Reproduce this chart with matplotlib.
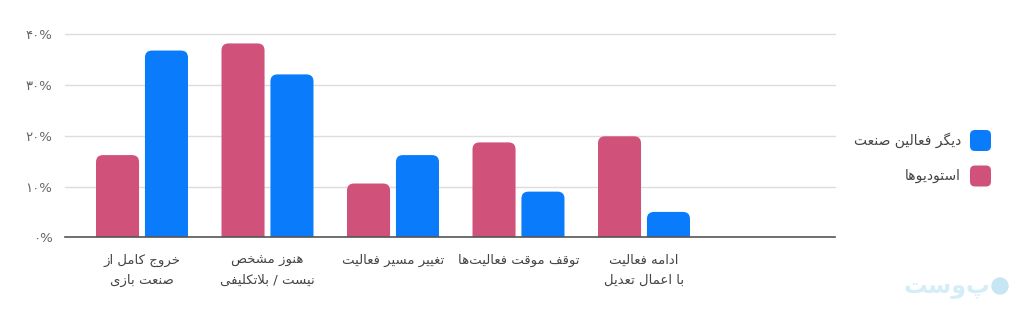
import matplotlib.pyplot as plt
from matplotlib.patches import FancyBboxPatch
import numpy as np

# data
categories = [
    "خروج کامل از\nصنعت بازی",
    "هنوز مشخص\nنیست / بلاتکلیفی",
    "تغییر مسیر فعالیت",
    "توقف موقت فعالیت\u200cها",
    "ادامه فعالیت\nبا اعمال تعدیل",
]
series_names = ["دیگر فعالین صنعت", "استودیوها"]
studios = [16.2, 38.2, 10.6, 18.7, 19.9]
others = [36.8, 32.1, 16.2, 9.0, 5.0]
y_ticks = [0, 10, 20, 30, 40]

PINK = "#d0527b"
BLUE = "#0a7cfb"

# matplotlib has no arabic shaping, so pick presentation forms by hand
FORMS = {
    "ا": (0xFE8D, 2), "ب": (0xFE8F, 4), "ت": (0xFE95, 4), "ج": (0xFE9D, 4),
    "خ": (0xFEA5, 4), "د": (0xFEA9, 2), "ر": (0xFEAD, 2), "ز": (0xFEAF, 2),
    "س": (0xFEB1, 4), "ش": (0xFEB5, 4), "ص": (0xFEB9, 4), "ع": (0xFEC9, 4),
    "غ": (0xFECD, 4), "ف": (0xFED1, 4), "ق": (0xFED5, 4), "ل": (0xFEDD, 4),
    "م": (0xFEE1, 4), "ن": (0xFEE5, 4), "ه": (0xFEE9, 4), "و": (0xFEED, 2),
    "ک": (0xFB8E, 4), "گ": (0xFB92, 4), "ی": (0xFBFC, 4),
}


def shape_line(text):
    tokens = []
    i = 0
    while i < len(text):
        if text[i] == "ل" and i + 1 < len(text) and text[i + 1] == "ا":
            tokens.append("LA")
            i += 2
        else:
            tokens.append(text[i])
            i += 1

    def joins(t):
        return t in FORMS or t == "LA"

    def dual(t):
        return t in FORMS and FORMS[t][1] == 4

    out = []
    for k, t in enumerate(tokens):
        prev = tokens[k - 1] if k > 0 else None
        nxt = tokens[k + 1] if k + 1 < len(tokens) else None
        jp = prev is not None and dual(prev) and joins(t)
        jn = dual(t) and nxt is not None and joins(nxt)
        if t == "LA":
            out.append(chr(0xFEFC if jp else 0xFEFB))
        elif t in FORMS:
            base = FORMS[t][0]
            off = 3 if (jp and jn) else 2 if jn else 1 if jp else 0
            out.append(chr(base + off))
        elif t == "\u200c":
            continue
        else:
            out.append(t)
    return "".join(out)[::-1]


def fa(text):
    return "\n".join(shape_line(l) for l in text.split("\n"))


def fa_num(n):
    return str(n).translate(str.maketrans("0123456789", "۰۱۲۳۴۵۶۷۸۹")) + "%"


W, H = 1031, 317
fig = plt.figure(figsize=(W / 100, H / 100), dpi=100)
px_per_unit = 5.075
ax = fig.add_axes([65 / W, (H - 237.3) / H, 770 / W, 42 * px_per_unit / H])

x = np.arange(len(categories))
width = 0.343
off = 0.195
ax.set_xlim(-0.6135, 5.522)
ax.set_ylim(0, 42)

bars_p = ax.bar(x - off, studios, width, color=PINK)
bars_b = ax.bar(x + off, others, width, color=BLUE)

# swap the plain bars for ones with rounded tops
p0 = ax.transData.transform((0, 0))
p1 = ax.transData.transform((1, 1))
sx, sy = p1[0] - p0[0], p1[1] - p0[1]
r_px = 7
for bars, col in [(bars_p, PINK), (bars_b, BLUE)]:
    for b in bars:
        bx, bw, bh = b.get_x(), b.get_width(), b.get_height()
        b.remove()
        ax.add_patch(FancyBboxPatch(
            (bx, -r_px / sy), bw, bh + r_px / sy,
            boxstyle=f"round,pad=0,rounding_size={r_px / sx}",
            mutation_aspect=sx / sy, fc=col, ec="none", zorder=3))

for t in y_ticks[1:]:
    ax.axhline(t, color="#dddddd", lw=1, zorder=1, clip_on=False)

for s in ["top", "right", "left"]:
    ax.spines[s].set_visible(False)
ax.spines["bottom"].set_color("#555555")
ax.spines["bottom"].set_linewidth(1.2)
ax.spines["bottom"].set_zorder(4)

ax.set_yticks(y_ticks)
ax.set_yticklabels([fa_num(t) for t in y_ticks], color="#666666", fontsize=9.5)
ax.set_xticks(x)
ax.set_xticklabels([fa(c) for c in categories], color="#444444", fontsize=9.5,
                   linespacing=1.7)
ax.tick_params(axis="y", length=0, pad=9)
ax.tick_params(axis="x", length=0, pad=12)

# legend on the right, square after text
ov = fig.add_axes([0, 0, 1, 1], zorder=5)
ov.set_xlim(0, W)
ov.set_ylim(H, 0)
ov.axis("off")
for name, col, yc in [(series_names[0], BLUE, 140.5), (series_names[1], PINK, 176)]:
    ov.add_patch(FancyBboxPatch((970, yc - 10.5), 21, 21,
                                boxstyle="round,pad=0,rounding_size=5",
                                fc=col, ec="none"))
    ov.text(961, yc, fa(name), ha="right", va="center", fontsize=10,
            color="#444444")

# faint logo mark
ov.add_patch(plt.Circle((1000, 286), 8, color="#c6e6f4"))
ov.text(990, 286, fa("پوست"), ha="right", va="center", fontsize=17,
        color="#d5edf7", fontweight="bold")

fig.savefig("out.png", dpi=100)
